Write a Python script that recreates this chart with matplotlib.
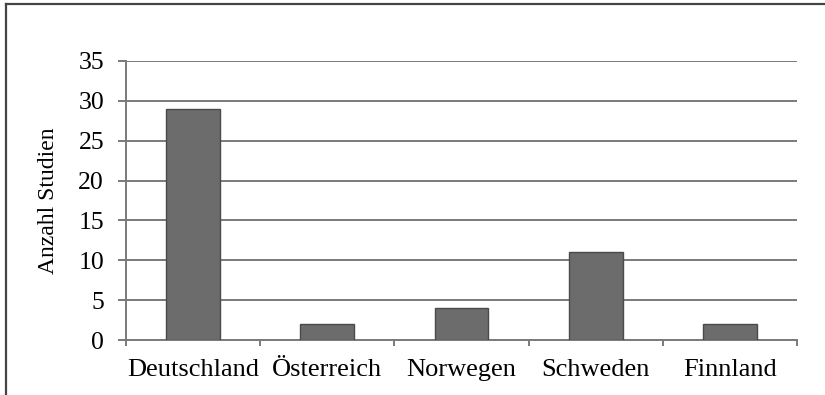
import matplotlib.pyplot as plt
from matplotlib.lines import Line2D
import numpy as np

plt.rcParams['font.family'] = ['Liberation Serif', 'DejaVu Serif']

# Anzahl Studien je Land
laender = ["Deutschland", "Österreich", "Norwegen", "Schweden", "Finnland"]
anzahl = [29, 2, 4, 11, 2]
y_ticks = [0, 5, 10, 15, 20, 25, 30, 35]

fig = plt.figure(figsize=(8.25, 3.95), dpi=100)
ax = fig.add_axes([0.1527, 0.1392, 0.8134, 0.7064])

x = np.arange(len(laender))
ax.bar(x, anzahl, width=0.4, color="#6c6c6c", edgecolor="#4a4a4a",
       linewidth=1.0, zorder=3)

ax.set_xlim(-0.5, len(laender) - 0.5)
ax.set_ylim(0, 35)
ax.set_yticks(y_ticks)
ax.yaxis.grid(True, color="#7a7a7a", linewidth=1.4, zorder=0)

# Kategorienamen mittig, Teilstriche an den Grenzen
ax.set_xticks(x)
ax.set_xticklabels(laender, fontsize=19)
ax.set_xticks(np.arange(len(laender) + 1) - 0.5, minor=True)
ax.tick_params(axis="x", which="major", length=0, pad=14)
ax.tick_params(axis="x", which="minor", length=4.3, width=1.4,
               color="#7a7a7a", direction="out")
ax.tick_params(axis="y", length=5.8, width=1.4, color="#7a7a7a",
               labelsize=18.5, pad=10)

for side in ["top", "right"]:
    ax.spines[side].set_visible(False)
for side in ["left", "bottom"]:
    ax.spines[side].set_color("#7a7a7a")
    ax.spines[side].set_linewidth(1.4)

ax.set_ylabel("Anzahl Studien", fontsize=17, labelpad=14)

# Rahmen oben und links
fig.add_artist(Line2D([0.007, 1.0], [0.99, 0.99], color="#444444",
                      linewidth=1.6, transform=fig.transFigure))
fig.add_artist(Line2D([0.007, 0.007], [0.0, 0.99], color="#444444",
                      linewidth=1.6, transform=fig.transFigure))

fig.savefig("out.png", dpi=100)
